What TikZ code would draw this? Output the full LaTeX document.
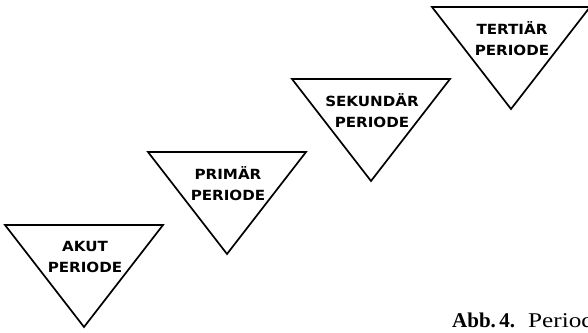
\documentclass[tikz,border=0pt]{standalone}
\usepackage{fontspec}
\usepackage{tikz}
\newfontfamily\periodfont{DejaVu Sans}[FakeStretch=1.08]
\newfontfamily\captionfont{Liberation Serif}
\tikzset{
  period/.style={draw=black, line width=1.7pt, line join=miter},
  periodlabel/.style={font=\periodfont\bfseries\fontsize{14}{21}\selectfont, align=center, inner sep=0pt}
}
\begin{document}
\begin{tikzpicture}[x=1pt, y=-1pt]
  \useasboundingbox (0,0) rectangle (588,332);
  % four periods, each one step up and to the right
  \foreach \cx/\ty/\lab/\name in {84/225/AKUT/akut, 227/152/PRIM\"AR/primaer, 371/79/SEKUND\"AR/sekundaer, 511/7/TERTI\"AR/tertiaer}
    { \draw[period] (\cx-79,\ty) -- (\cx+79,\ty) -- (\cx,\ty+102) -- cycle;
      \node[periodlabel] (\name) at (\cx+1,\ty+32) {\lab\\PERIODE}; }
  \node[anchor=base west, inner sep=0pt, font=\captionfont\fontsize{21}{25}\selectfont] (caption) at (452,327)
    {{\bfseries Abb.\,4.}\hspace{13pt}{\addfontfeature{FakeStretch=1.2}Period}};
\end{tikzpicture}
\end{document}
